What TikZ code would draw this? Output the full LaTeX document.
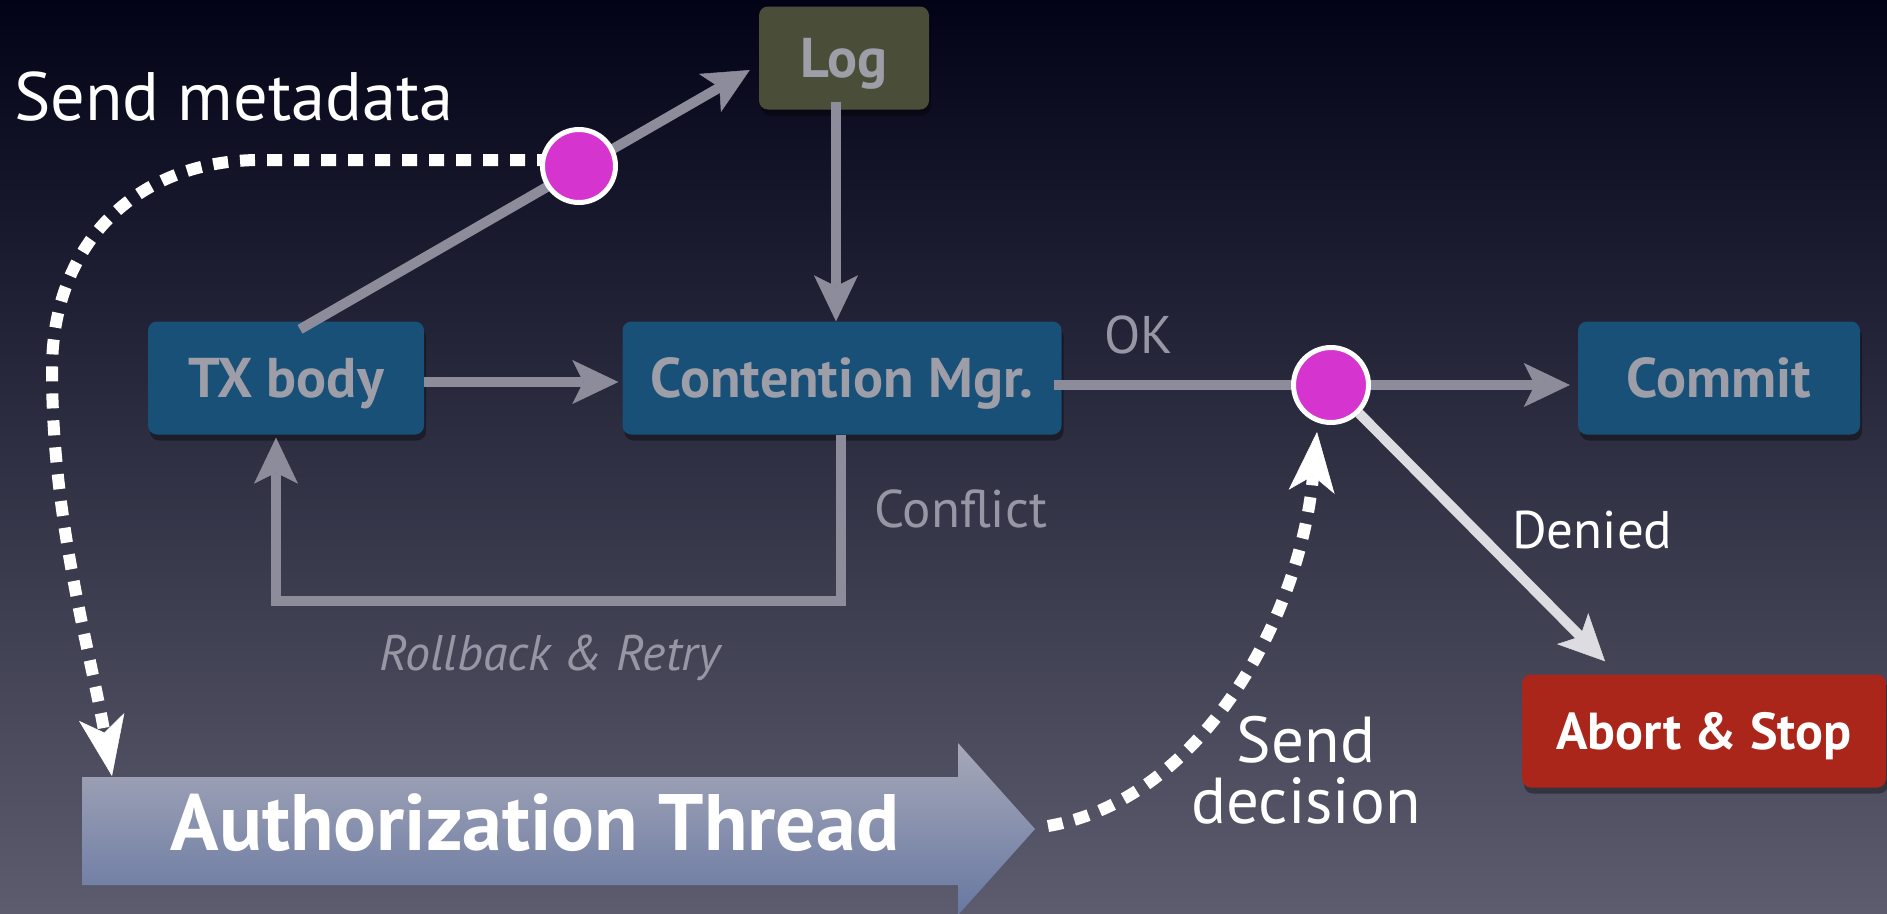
\documentclass[tikz,border=0pt]{standalone}
\usepackage{fontspec}
\setmainfont{PT Sans}
\usetikzlibrary{arrows.meta,shadows,calc}
\definecolor{bgtop}{RGB}{3,3,24}
\definecolor{bgmid}{RGB}{40,40,64}
\definecolor{bgbot}{RGB}{92,92,110}
\definecolor{garr}{RGB}{140,140,155}
\definecolor{denied}{RGB}{220,220,225}
\definecolor{boxblue}{RGB}{24,80,120}
\definecolor{logfill}{RGB}{74,78,56}
\definecolor{abortred}{RGB}{170,38,26}
\definecolor{mag}{RGB}{213,52,206}
\definecolor{boxtext}{RGB}{158,158,168}
\definecolor{lblgray}{RGB}{150,150,165}
\definecolor{authtop}{RGB}{166,168,184}
\definecolor{authbot}{RGB}{104,120,162}
\pgfdeclarelayer{back}
\pgfdeclarelayer{edges}
\pgfdeclarelayer{front}
\pgfsetlayers{back,main,edges,front}
\begin{document}
\begin{tikzpicture}[x=1pt,y=-1pt,
  box/.style={rounded corners=9pt, inner sep=0pt, text depth=0pt, text=boxtext, font=\fontsize{56}{64}\selectfont\bfseries, drop shadow={fill=black, opacity=0.35,shadow xshift=2pt,shadow yshift=-6pt}},
  gline/.style={draw=garr, line width=10pt},
  garrow/.style={gline, -{Stealth[length=46pt,width=44pt,inset=11pt,line width=0.5pt]}},
  dotarrow/.style={draw=white, line width=12pt, dash pattern=on 15pt off 12pt, -{Stealth[length=60pt,width=46pt,inset=16pt,line width=0.5pt]}},
  dot/.style={circle, fill=mag, draw=white, line width=5pt, inner sep=0pt},
  lbl/.style={text=lblgray, font=\fontsize{53}{60}\selectfont, inner sep=0pt}
]
\useasboundingbox (0,0) rectangle (1887,913);
\begin{pgfonlayer}{back}
\shade[top color=bgtop, middle color=bgmid, bottom color=bgbot] (0,0) rectangle (1887,913);
\end{pgfonlayer}

% boxes
\node[box, fill=logfill, minimum width=170pt, minimum height=103pt] (log) at (844,58) {Log};
\node[box, fill=boxblue, minimum width=276pt, minimum height=113pt] (tx) at (286,378) {TX body};
\node[box, fill=boxblue, minimum width=439pt, minimum height=113pt] (cm) at (842,378) {Contention Mgr.};
\node[box, fill=boxblue, minimum width=282pt, minimum height=113pt] (commit) at (1719,378) {Commit};
\node[box, fill=abortred, text=white, font=\fontsize{52}{60}\selectfont\bfseries, minimum width=364pt, minimum height=113pt] (abort) at (1704,731) {Abort \& Stop};

% authorization thread arrow
\shade[top color=authtop, bottom color=authbot] (82,777) -- (958,777) -- (958,743) -- (1035,829) -- (958,915) -- (958,885) -- (82,885) -- cycle;
\node[text=white, font=\fontsize{80}{90}\selectfont\bfseries, anchor=base, inner sep=0pt] (auth) at (535,850) {Authorization Thread};
\coordinate (authin) at (112,776);
\coordinate (authtip) at (1048,826);

% decision points
\begin{pgfonlayer}{front}
\node[dot, minimum size=73pt] (c1) at (579,166) {};
\node[dot, minimum size=75pt] (c2) at (1331,385) {};
\end{pgfonlayer}

\begin{pgfonlayer}{edges}
\draw[garrow] ([xshift=14pt,yshift=-8pt]tx.north) -- ([xshift=-9pt,yshift=-12pt]log.west);
\draw[garrow, shorten >=4pt] ([yshift=-4pt]tx.east) -- ([yshift=-4pt]cm.west);
\draw[garrow] ([xshift=-8pt,yshift=8pt]log.south) -- ([xshift=-6pt]cm.north);
\draw[gline] ([xshift=-8pt,yshift=-7pt]cm.east) -- (c2);
\draw[garrow, shorten >=8pt] (c2) -- (c2 -| commit.west);
\draw[garrow, shorten >=3pt] ([xshift=-1pt]cm.south) -- ++(0,166) -| ([xshift=-10pt]tx.south);
\draw[garrow, draw=denied] (c2) -- ([xshift=-99pt,yshift=13pt]abort.north);
\draw[dotarrow] ([yshift=6pt]c1.center) -- (260,160) .. controls (140,160) and (52,240) .. (52,370) .. controls (52,520) and (90,650) .. (authin);
\draw[dotarrow] (authtip) .. controls (1200,800) and (1300,620) .. ([xshift=-14pt,yshift=-7pt]c2.south);
\end{pgfonlayer}

% labels
\node[text=white, font=\fontsize{68.5}{72}\selectfont, anchor=base west, inner sep=0pt] (sm) at (14,120) {Send metadata};
\node[lbl, anchor=base west] (ok) at (1104,353) {OK};
\node[lbl, anchor=base west] (conflict) at (874,527) {Conflict};
\node[lbl, anchor=base west, font=\fontsize{50}{58}\selectfont\itshape] (rb) at (379,670) {Rollback \& Retry};
\node[lbl, text=white, anchor=base west] (den) at (1512,548) {Denied};
\node[text=white, font=\fontsize{65}{61}\selectfont, align=center, inner sep=0pt, anchor=north] (sd) at (1306,716) {Send\\decision};
\end{tikzpicture}
\end{document}
